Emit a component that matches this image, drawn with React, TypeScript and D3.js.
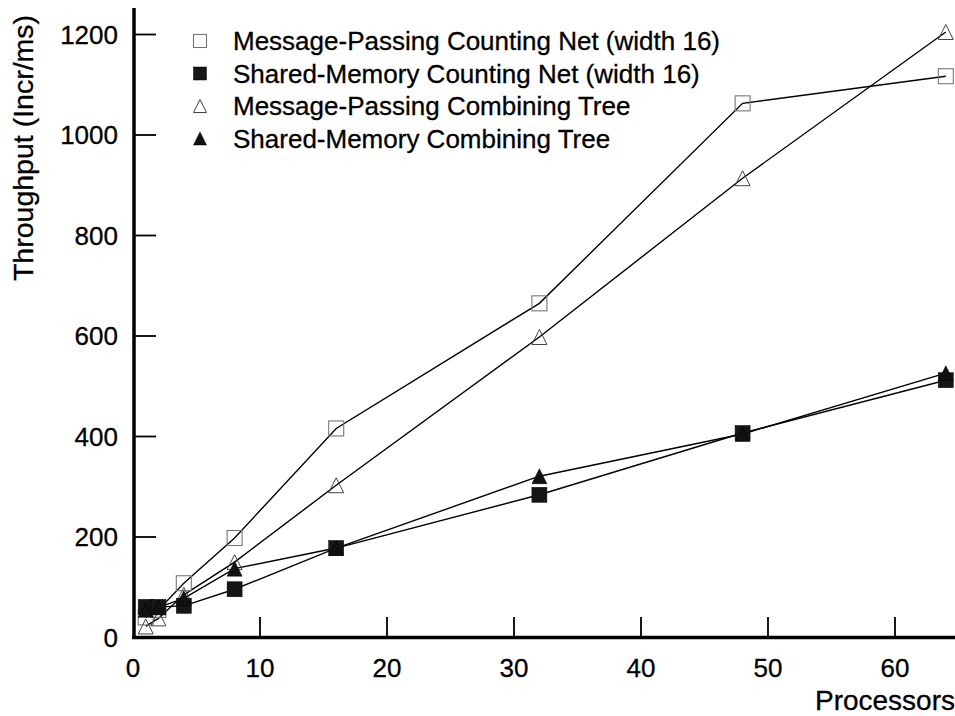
import React from "react";
import * as d3 from "d3";

const processors = [1, 2, 4, 8, 16, 32, 48, 64];
const mpCountingNet = [40, 55, 108, 198, 416, 665, 1063, 1117];
const smCountingNet = [61, 61, 63, 96, 178, 284, 407, 512];
const mpCombiningTree = [22, 38, 85, 150, 303, 598, 914, 1205];
const smCombiningTree = [55, 60, 78, 137, 178, 321, 405, 526];

const seriesNames = [
  "Message-Passing Counting Net (width 16)",
  "Shared-Memory Counting Net (width 16)",
  "Message-Passing Combining Tree",
  "Shared-Memory Combining Tree",
];
const xTicks = [0, 10, 20, 30, 40, 50, 60];
const yTicks = [0, 200, 400, 600, 800, 1000, 1200];

const FONT = "'Liberation Sans', Arial, Helvetica, sans-serif";

type Kind = "openSquare" | "filledSquare" | "openTri" | "filledTri";

function Marker({ kind, cx, cy, size = 15 }: { kind: Kind; cx: number; cy: number; size?: number }) {
  const s = size;
  if (kind === "openSquare") {
    return (
      <rect x={cx - s / 2} y={cy - s / 2} width={s} height={s} fill="none" stroke="#777" strokeWidth={1.1} />
    );
  }
  if (kind === "filledSquare") {
    return <rect x={cx - s / 2} y={cy - s / 2} width={s} height={s} fill="#161616" stroke="#000" strokeWidth={0.5} />;
  }
  const w = s;
  const h = s;
  const pts = `${cx - w / 2},${cy + h / 2} ${cx},${cy - h / 2} ${cx + w / 2},${cy + h / 2}`;
  if (kind === "openTri") {
    return <polygon points={pts} fill="none" stroke="#444" strokeWidth={1} />;
  }
  return <polygon points={pts} fill="#111" stroke="#000" strokeWidth={0.5} />;
}

export default function App() {
  const x = d3.scaleLinear().domain([0, 64]).range([133, 945.8]);
  const y = d3.scaleLinear().domain([0, 1200]).range([637.5, 34.5]);

  const series: { values: number[]; kind: Kind }[] = [
    { values: mpCountingNet, kind: "openSquare" },
    { values: mpCombiningTree, kind: "openTri" },
    { values: smCountingNet, kind: "filledSquare" },
    { values: smCombiningTree, kind: "filledTri" },
  ];
  const legendKinds: Kind[] = ["openSquare", "filledSquare", "openTri", "filledTri"];

  const line = d3
    .line<number>()
    .x((_, i) => x(processors[i]))
    .y((d) => y(d));

  return (
    <svg
      width={955}
      height={716}
      style={{ position: "absolute", left: 0, top: 0, background: "#fff" }}
      fontFamily={FONT}
    >
      <rect x={0} y={0} width={955} height={716} fill="#fff" />
      {/* lines */}
      {series.map((s, k) => (
        <path key={k} d={line(s.values) || ""} fill="none" stroke="#000" strokeWidth={1.4} />
      ))}
      {/* markers */}
      {series.map((s, k) =>
        s.values.map((v, i) => <Marker key={`${k}-${i}`} kind={s.kind} cx={x(processors[i])} cy={y(v)} />)
      )}
      {/* axes */}
      <line x1={134} x2={134} y1={8} y2={639} stroke="#000" strokeWidth={3.5} />
      <line x1={132} x2={955} y1={637.5} y2={637.5} stroke="#000" strokeWidth={3.5} />
      {yTicks.map((t) => (
        <g key={`y${t}`}>
          {t > 0 && <line x1={134} x2={156} y1={y(t)} y2={y(t)} stroke="#000" strokeWidth={1.8} />}
          <text x={118} y={y(t)} dy="0.36em" textAnchor="end" fontSize={26} fill="#000" stroke="#000" strokeWidth={0.3}>
            {t}
          </text>
        </g>
      ))}
      {xTicks.map((t) => (
        <g key={`x${t}`}>
          {t > 0 && <line x1={x(t)} x2={x(t)} y1={637.5} y2={617} stroke="#000" strokeWidth={1.8} />}
          <text x={x(t)} y={677} textAnchor="middle" fontSize={26} fill="#000" stroke="#000" strokeWidth={0.3}>
            {t}
          </text>
        </g>
      ))}
      {/* axis titles */}
      <text x={955} y={710} textAnchor="end" fontSize={28} fill="#000" stroke="#000" strokeWidth={0.3}>
        Processors
      </text>
      <text
        transform={`translate(33,148) rotate(-90)`}
        textAnchor="middle"
        fontSize={28.5}
        fill="#000"
        stroke="#000"
        strokeWidth={0.3}
      >
        Throughput (Incr/ms)
      </text>
      {/* legend */}
      {seriesNames.map((name, i) => {
        const cy = 41 + i * 32.5;
        return (
          <g key={name}>
            <Marker kind={legendKinds[i]} cx={200} cy={cy} size={13} />
            <text x={233} y={cy} dy="0.36em" fontSize={26} fill="#000" stroke="#000" strokeWidth={0.3}>
              {name}
            </text>
          </g>
        );
      })}
    </svg>
  );
}
